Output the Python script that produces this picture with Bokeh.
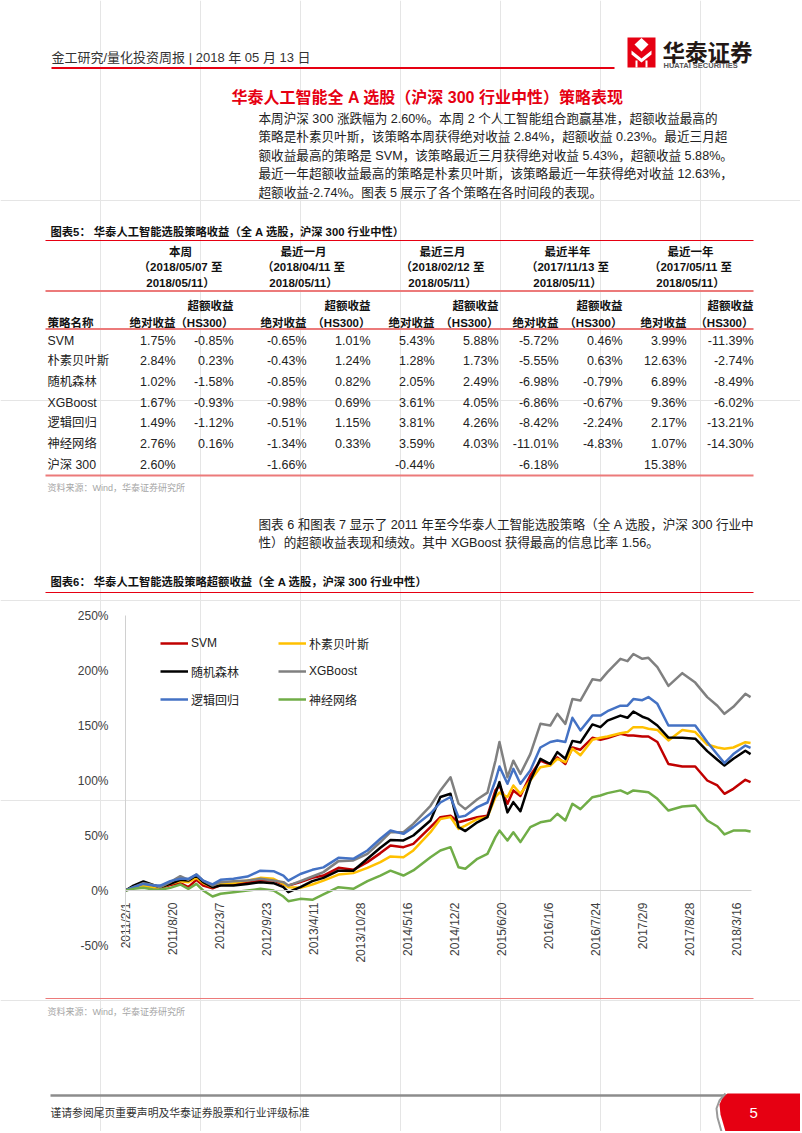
import numpy as np
import pandas as pd
from bokeh.plotting import figure
from bokeh.models import (Range1d, FixedTicker, Legend, LegendItem, ColumnDataSource,
                          PrintfTickFormatter, LinearAxis)
from bokeh.core.properties import value
from bokeh.embed import file_html
from bokeh.resources import INLINE

# ---------------- data ----------------
dates = ["2011-02-01", "2011-03-07", "2011-04-18", "2011-05-30", "2011-06-29", "2011-08-10", "2011-09-22",
         "2011-10-26", "2011-11-29", "2011-12-28",
         "2012-02-06", "2012-03-11", "2012-05-05", "2012-07-03", "2012-08-27", "2012-10-22", "2012-12-03",
         "2012-12-24",
         "2013-02-13", "2013-04-05", "2013-05-22", "2013-07-25", "2013-09-26", "2013-11-25",
         "2014-01-19", "2014-03-03", "2014-04-27", "2014-06-08", "2014-08-20", "2014-10-01", "2014-11-13",
         "2014-12-17",
         "2015-01-15", "2015-03-07", "2015-04-19", "2015-05-23", "2015-06-09", "2015-07-13", "2015-08-07",
         "2015-09-06", "2015-10-18", "2015-11-30",
         "2016-01-11", "2016-02-10", "2016-03-15", "2016-04-14", "2016-05-18", "2016-07-08", "2016-08-11",
         "2016-09-10", "2016-11-04", "2016-12-04", "2016-12-29",
         "2017-02-05", "2017-03-03", "2017-04-10", "2017-05-27", "2017-07-25", "2017-09-18", "2017-11-08",
         "2017-12-21",
         "2018-01-20", "2018-02-27", "2018-04-19", "2018-05-11"]

svm = [0, 3, 4.5, 3, 2.4, 5, 6.7, 3, 9.7, 4.5,
       2, 5, 6, 7.3, 9, 9, 5.5, 4.5,
       7.6, 11.5, 13.6, 20.6, 18.8, 25.8,
       34, 41, 39.4, 42.4, 57.6, 66.7, 68, 62,
       63.6, 66.7, 68, 91, 95.5, 78.8, 91, 86, 104.5, 118,
       114.5, 121, 115, 130, 128, 138.8, 137, 138.5, 142.4, 141, 141,
       140, 140, 135, 115, 112.7, 112.7, 100, 95.5,
       87.9, 92.4, 100.6, 98.5]
nb = [0, 3, 4.5, 3, 2.4, 6, 8.5, 7.6, 11.5, 6.7,
      3, 6, 6.7, 9, 11.5, 10.6, 6, 3,
      2.4, 5.5, 9, 14.5, 15.8, 20.6,
      25.8, 31, 30.3, 36.4, 53, 65, 66.7, 56,
      59, 65, 66.7, 85, 89, 85, 95.5, 88, 100, 112,
      113.6, 119.7, 116.7, 128.8, 123, 137, 138.8, 140, 143, 144, 148.5,
      148.5, 147, 146, 136.4, 146, 144, 132.7, 130,
      128.8, 130, 134.8, 134]
rf = [0, 4.5, 8.2, 5, 3, 6, 9.7, 9, 13.6, 7.6,
      3, 4.5, 4.5, 6, 7.6, 6.7, 3, -1.5,
      3, 8.5, 11.5, 18, 18, 28.8,
      38.8, 46, 45.5, 50, 63.6, 85, 88, 57.6,
      54, 62, 66.7, 88, 98.5, 71, 80.3, 72, 100, 119.7,
      115, 125.8, 119.7, 136, 134.5, 151, 148.5, 154.5, 159, 157, 162.7,
      158, 156, 150, 139, 138.8, 138, 126.7, 118.8,
      113.6, 119.7, 127, 124]
xgb = [0, 3, 6.7, 5, 3, 7.6, 13, 9.7, 14.5, 9,
       4.5, 7.6, 8.5, 9, 10.6, 9, 7.6, 4.5,
       8.5, 12.7, 16.7, 26.7, 27.3, 33.3,
       44, 53, 53, 60.6, 77, 91, 103, 79,
       74, 83, 89, 118, 135, 103, 118, 106, 124, 151.5,
       150, 160.6, 151.5, 174, 172.7, 192, 191, 198.5, 210.6, 208.5, 215,
       210.6, 211.5, 203, 186, 197.6, 189, 175.8, 168,
       160.6, 167, 178.8, 175.8]
lr = [0, 3, 6, 4.5, 4.5, 8.5, 10.6, 10.6, 14.5, 9,
      5.5, 9.7, 10.6, 12.7, 18, 17.6, 13.6, 9,
      15, 18.8, 21, 29.7, 28.8, 36.4,
      47, 54.5, 51.5, 57.6, 70, 80, 85, 66.7,
      68, 75.8, 80, 100, 112.7, 97, 110.6, 97, 109, 130,
      135, 136.4, 135, 157, 145.5, 159, 159, 163, 168, 168, 174,
      173, 175.8, 169.7, 150, 150, 150, 135, 123.6,
      115.8, 124, 131.8, 129.7]
nn = [0, 1.5, 2.4, 1, 0.6, 2.4, 5.5, 1.5, 6, 0,
      -5.5, -3, -1.5, 0, 1.5, 0, -5.5, -9.7,
      -7.6, -8.5, -3.6, 3, 1.5, 8.5,
      13.6, 18, 13.6, 18.2, 30.3, 36.4, 39.4, 21.2,
      19.7, 28.8, 33.3, 48.5, 54.5, 45.5, 53, 44, 57.6, 62,
      63.6, 69.7, 63.6, 78.8, 74, 84.8, 86.4, 88.5, 91, 88, 91,
      90, 89.4, 83.3, 72.7, 76.4, 77.3, 63.6, 58.2,
      51, 54.5, 54.5, 53.6]

series_names = ["SVM", "朴素贝叶斯", "随机森林", "XGBoost", "逻辑回归", "神经网络"]
series_colors = ["#C00000", "#FFC000", "#000000", "#808080", "#4472C4", "#70AD47"]

x_tick_labels = ["2011/2/1", "2011/8/20", "2012/3/7", "2012/9/23", "2013/4/11", "2013/10/28", "2014/5/16",
                 "2014/12/2", "2015/6/20", "2016/1/6", "2016/7/24", "2017/2/9", "2017/8/28", "2018/3/16"]
y_ticks = [-50, 0, 50, 100, 150, 200, 250]

# table 5
periods = ["本周", "最近一月", "最近三月", "最近半年", "最近一年"]
period_starts = ["2018/05/07", "2018/04/11", "2018/02/12", "2017/11/13", "2017/05/11"]
period_end = "2018/05/11"
strategies = ["SVM", "朴素贝叶斯", "随机森林", "XGBoost", "逻辑回归", "神经网络", "沪深 300"]
abs_week = [1.75, 2.84, 1.02, 1.67, 1.49, 2.76, 2.60]
exc_week = [-0.85, 0.23, -1.58, -0.93, -1.12, 0.16, None]
abs_month = [-0.65, -0.43, -0.85, -0.98, -0.51, -1.34, -1.66]
exc_month = [1.01, 1.24, 0.82, 0.69, 1.15, 0.33, None]
abs_3m = [5.43, 1.28, 2.05, 3.61, 3.81, 3.59, -0.44]
exc_3m = [5.88, 1.73, 2.49, 4.05, 4.26, 4.03, None]
abs_6m = [-5.72, -5.55, -6.98, -6.86, -8.42, -11.01, -6.18]
exc_6m = [0.46, 0.63, -0.79, -0.67, -2.24, -4.83, None]
abs_1y = [3.99, 12.63, 6.89, 9.36, 2.17, 1.07, 15.38]
exc_1y = [-11.39, -2.74, -8.49, -6.02, -13.21, -14.30, None]

# ---------------- page figure (page pixel coordinates) ----------------
CJK = "Noto Sans CJK SC"
MIX = "Liberation Sans, Noto Sans CJK SC"
RED = "#E60012"
PINK = "#EC7A7A"
W, H = 800, 1131

P = figure(width=W, height=H, x_range=Range1d(0, W), y_range=Range1d(H, 0),
           x_axis_location=None, y_axis_location=None, output_backend="svg",
           toolbar_location=None, min_border=0)
P.outline_line_color = None


def txt(xs, ys, texts, size, color="#222222", font=MIX, align="left", bold=False):
    P.text(x=xs, y=ys, text=texts, text_font=value(font), text_font_size=f"{size}px",
           text_color=color, text_align=align, text_baseline="middle",
           text_font_style="bold" if bold else "normal")


def hline(x0, x1, y, color, w):
    P.segment(x0=[x0], y0=[y], x1=[x1], y1=[y], line_color=color, line_width=w)


# header
txt([51], [57], ["金工研究/量化投资周报 | 2018 年 05 月 13 日"], 13, "#333333")
hline(51, 614, 67.5, RED, 2)
P.quad(left=[627], right=[655], top=[37], bottom=[67], fill_color=RED, line_color=None)
P.patch(x=[634, 641, 648, 641], y=[44, 37.5, 44, 51], fill_color="white", line_color=None)
P.patch(x=[631, 641, 651, 651, 641, 631], y=[50, 58, 50, 54, 62, 54], fill_color="white", line_color=None)
P.segment(x0=[636, 646], y0=[60, 60], x1=[636, 646], y1=[67, 67], line_color="white", line_width=2)
txt([662], [50], ["华泰证券"], 22.5, "#231815", CJK, bold=True)
txt([663], [65], ["HUATAI SECURITIES"], 7.5, "#555555", "Liberation Sans", bold=True)

# section title + paragraph
txt([231], [97], ["华泰人工智能全 A 选股（沪深 300 行业中性）策略表现"], 16, RED, MIX, bold=True)
para1 = ["本周沪深 300 涨跌幅为 2.60%。本周 2 个人工智能组合跑赢基准，超额收益最高的",
         "策略是朴素贝叶斯，该策略本周获得绝对收益 2.84%，超额收益 0.23%。最近三月超",
         "额收益最高的策略是 SVM，该策略最近三月获得绝对收益 5.43%，超额收益 5.88%。",
         "最近一年超额收益最高的策略是朴素贝叶斯，该策略最近一年获得绝对收益 12.63%，",
         "超额收益-2.74%。图表 5 展示了各个策略在各时间段的表现。"]
txt([258] * 5, [118, 136.5, 155, 173.5, 192], para1, 12.6, "#222222")

# table 5
txt([50], [231], ["图表5：  华泰人工智能选股策略收益（全 A 选股，沪深 300 行业中性）"], 11.3, "#111111", bold=True)
hline(45, 753, 240, RED, 1.2)
group_cx = [180, 303, 442, 567, 690]
txt(group_cx, [251] * 5, periods, 11.5, "#111111", bold=True, align="center")
txt(group_cx, [266.5] * 5, ["（" + s + " 至" for s in period_starts], 11.5, "#111111", bold=True,
    align="center")
txt(group_cx, [282] * 5, [period_end + "）"] * 5, 11.5, "#111111", bold=True, align="center")
hline(45, 753, 290.5, PINK, 1.8)

col_right = [175, 233, 306, 370, 434, 498, 558, 622, 686, 753]
abs_cols = col_right[0::2]
exc_cols = col_right[1::2]
txt(exc_cols, [305] * 5, ["超额收益"] * 5, 11.5, "#111111", bold=True, align="right")
txt(exc_cols, [322] * 5, ["（HS300）"] * 5, 11.5, "#111111", bold=True, align="right")
txt(abs_cols, [322] * 5, ["绝对收益"] * 5, 11.5, "#111111", bold=True, align="right")
txt([47], [322], ["策略名称"], 11.5, "#111111", bold=True)
hline(45, 753, 328.5, PINK, 1.8)

row_y = [340 + 20.7 * i for i in range(len(strategies))]
txt([47] * len(strategies), row_y, strategies, 12.3, "#222222")
cols = [abs_week, exc_week, abs_month, exc_month, abs_3m, exc_3m, abs_6m, exc_6m, abs_1y, exc_1y]
vx, vy, vt = [], [], []
for ci, colvals in enumerate(cols):
    for ri, v in enumerate(colvals):
        if v is None:
            continue
        vx.append(col_right[ci])
        vy.append(row_y[ri])
        vt.append(f"{v:.2f}%")
txt(vx, vy, vt, 12.5, "#222222", "Liberation Sans", align="right")
hline(45, 753, 475, PINK, 1.8)
txt([47], [487], ["资料来源：Wind，华泰证券研究所"], 9, "#A6A6A6")

para2 = ["图表 6 和图表 7 显示了 2011 年至今华泰人工智能选股策略（全 A 选股，沪深 300 行业中",
         "性）的超额收益表现和绩效。其中 XGBoost 获得最高的信息比率 1.56。"]
txt([258, 258], [524, 542.5], para2, 12.6, "#222222")
txt([50], [581], ["图表6：  华泰人工智能选股策略超额收益（全 A 选股，沪深 300 行业中性）"], 11.3, "#111111", bold=True)
hline(45, 753, 592, RED, 1.2)

# ---------------- chart 6 (own ranges mapped onto its plot area) ----------------
start = pd.Timestamp(dates[0])
days = (pd.to_datetime(dates) - start).days.tolist()
tick_days = (pd.to_datetime(x_tick_labels) - start).days.tolist()

cx0, cx1 = 125, 751      # plot area left / right (page px)
cy_top, cy_bot = 615, 945  # plot area top / bottom (page px)
d0, d1 = 0, 2660
v0, v1 = -50, 250
kx = (cx1 - cx0) / (d1 - d0)
ky = (cy_bot - cy_top) / (v1 - v0)
P.extra_x_ranges = {"days": Range1d(d0 - cx0 / kx, d1 + (W - cx1) / kx)}
P.extra_y_ranges = {"pct": Range1d(v0 - (H - cy_bot) / ky, v1 + cy_top / ky)}

src = ColumnDataSource(dict(day=days, svm=svm, nb=nb, rf=rf, xgb=xgb, lr=lr, nn=nn))
renderers = []
for key, col in zip(["svm", "nb", "rf", "xgb", "lr", "nn"], series_colors):
    r = P.line(x="day", y=key, source=src, line_color=col, line_width=2.5, line_join="round",
               x_range_name="days", y_range_name="pct")
    renderers.append(r)

yax = LinearAxis(x_range_name="days", y_range_name="pct", fixed_location=0, bounds=(v0, v1),
                 ticker=FixedTicker(ticks=y_ticks), formatter=PrintfTickFormatter(format="%d%%"),
                 axis_line_color="#D0D0D0", major_tick_line_color=None, minor_tick_line_color=None,
                 major_label_standoff=11, major_label_text_font="Liberation Sans",
                 major_label_text_font_size="12px", major_label_text_color="#404040")
P.add_layout(yax, "left")

xax = LinearAxis(x_range_name="days", y_range_name="pct", fixed_location=0, bounds=(d0, d1),
                 ticker=FixedTicker(ticks=tick_days),
                 major_label_overrides={d: s for d, s in zip(tick_days, x_tick_labels)},
                 major_label_orientation=np.pi / 2,
                 axis_line_color="#D0D0D0", major_tick_line_color=None, minor_tick_line_color=None,
                 major_label_standoff=6, major_label_text_font="Liberation Sans",
                 major_label_text_font_size="12px", major_label_text_color="#404040")
P.add_layout(xax, "below")

legend = Legend(items=[LegendItem(label=n, renderers=[r]) for n, r in zip(series_names, renderers)],
                location=(160, H - 709), orientation="horizontal", ncols=2,
                glyph_width=28, glyph_height=20, label_height=20, label_width=79, label_standoff=3,
                spacing=8, padding=0, margin=0, border_line_color=None, background_fill_alpha=0,
                label_text_font=MIX, label_text_font_size="12px", label_text_color="#222222")
P.add_layout(legend)

# ---------------- source + footer ----------------
hline(45, 753, 998, PINK, 1.2)
txt([47], [1011], ["资料来源：Wind，华泰证券研究所"], 9, "#A6A6A6")
hline(50, 727, 1095, "#8C8C8C", 2.5)
txt([50], [1111], ["谨请参阅尾页重要声明及华泰证券股票和行业评级标准"], 10.8, "#333333", CJK)
P.patch(x=[727, W, W, 725, 720, 719, 722], y=[1093, 1093, H, H, 1114, 1104, 1097],
        fill_color=RED, line_color=None)
P.line(x=[725, 719, 716, 717, 721], y=[1093, 1100, 1108, 1117, H], line_color="#9A9A9A", line_width=2)
txt([749], [1112], ["5"], 15, "white", "Liberation Sans")

open("out.html", "w").write(file_html(P, INLINE))
